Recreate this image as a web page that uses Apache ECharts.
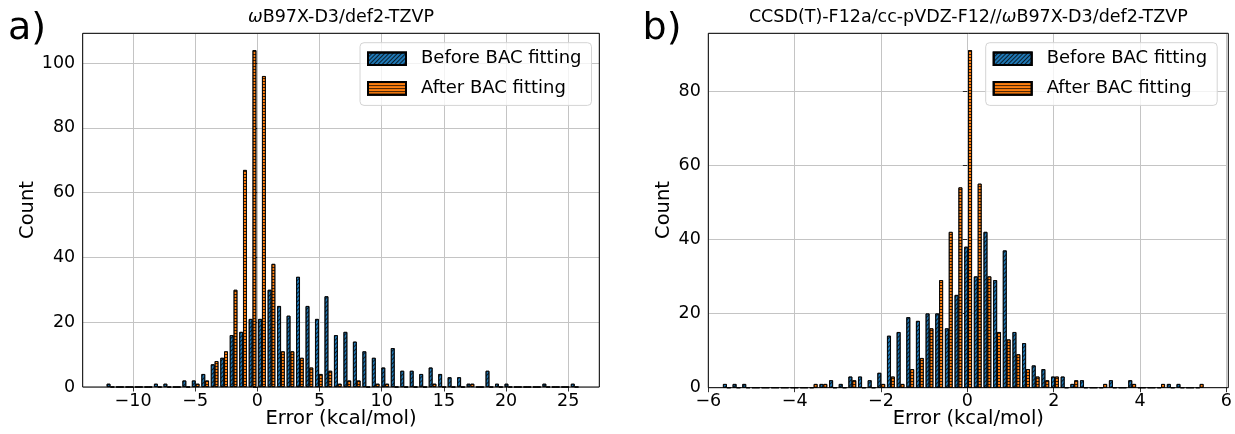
<!DOCTYPE html>
<html>
<head>
<meta charset="UTF-8">
<title>BAC fitting error histograms</title>
<script src="https://cdn.jsdelivr.net/npm/echarts@6/dist/echarts.min.js"></script>
<style>
html,body{margin:0;padding:0;background:#fff;}
#main{width:1235px;height:434px;}
</style>
</head>
<body>
<div id="main"></div>
<script>
// a) ωB97X-D3/def2-TZVP : 50 bins
var leftBinStart = -12.2;
var leftBinWidth = 0.762;
var leftBefore = [1,0,0,0,0,1,1,0,2,2, 4,7,9,16,17,21,21,30,25,22, 34,25,21,28,16,17,14,11,9,6, 12,5,5,4,6,4,3,3,1,0, 5,1,1,0,0,0,1,0,0,1];
var leftAfter  = [0,0,0,0,0,0,0,0,0,1, 2,8,11,30,67,104,96,38,11,11, 9,6,4,5,1,2,2,0,1,1, 0,0,0,0,1,0,0,0,1,0, 0,0,0,0,0,0,0,0,0,0];

// b) CCSD(T)-F12a/cc-pVDZ-F12//ωB97X-D3/def2-TZVP : 50 bins
var rightBinStart = -5.682;
var rightBinWidth = 0.2235;
var rightBefore = [1,1,1,0,0,0,0,0,0,0, 1,2,1,3,3,2,4,14,15,19, 18,20,20,16,25,38,30,42,29,37, 15,12,6,5,3,3,1,2,0,0, 2,0,2,0,0,0,1,1,0,0];
var rightAfter  = [0,0,0,0,0,0,0,0,0,1, 1,0,0,2,0,0,1,3,1,5, 8,16,29,42,54,91,55,30,15,13, 9,5,3,2,3,0,2,0,0,1, 0,0,1,0,0,1,0,0,0,1];

var seriesNames = ['Before BAC fitting', 'After BAC fitting'];
var FONT = 'DejaVu Sans';

// 坐标范围
var leftX = [-14.05, 27.5], leftY = [0, 109.2];
var rightX = [-6, 6], rightY = [0, 95.55];
var gL = {left: 82.7, top: 33.3, width: 516.6, height: 353.7};
var gR = {left: 708.3, top: 33.3, width: 520, height: 354.4};

// 柱子中心 = 区间起点 + 宽度*(k+offset)
function bars(start, w, counts, offset) {
    return counts.map(function (c, k) { return [start + w * (k + offset), c]; });
}
function pxWidth(w, ext, grid) { return 0.4 * w / (ext[1] - ext[0]) * grid.width; }

var blueHatch = {symbol: 'rect', symbolSize: 1, color: 'rgba(0,0,0,0.75)', dashArrayX: [1, 0], dashArrayY: [1, 2], rotation: -Math.PI / 4};
var orangeHatch = {symbol: 'rect', symbolSize: 1, color: 'rgba(0,0,0,0.75)', dashArrayX: [1, 0], dashArrayY: [1, 1.6], rotation: 0};
var blueStyle = {color: '#1f77b4', borderColor: '#000', borderWidth: 0.8, decal: blueHatch};
var orangeStyle = {color: '#ff7f0e', borderColor: '#000', borderWidth: 0.8, decal: orangeHatch};

function minus(v) { return v < 0 ? '\u2212' + Math.abs(v) : String(v); }
var tickLabel = {fontFamily: FONT, fontSize: 17.5, color: '#000', formatter: minus};

function xAxis(idx, ext, step) {
    return {
        type: 'value', gridIndex: idx, min: ext[0], max: ext[1],
        minInterval: step, maxInterval: step,
        axisLine: {show: false},
        axisTick: {show: true, length: 4.5, lineStyle: {color: '#000', width: 0.8}},
        axisLabel: Object.assign({margin: 5, showMinLabel: idx === 1, showMaxLabel: idx === 1}, tickLabel),
        splitLine: {show: true, lineStyle: {color: '#c4c4c4', width: 1}}
    };
}
function yAxis(idx, ext) {
    return {
        type: 'value', gridIndex: idx, min: ext[0], max: ext[1], interval: 20,
        axisLine: {show: false},
        axisTick: {show: true, length: 4.5, lineStyle: {color: '#000', width: 0.8}},
        axisLabel: Object.assign({margin: 7.5, showMaxLabel: false}, tickLabel),
        splitLine: {show: true, lineStyle: {color: '#c4c4c4', width: 1}}
    };
}
function legend(left) {
    return {
        data: seriesNames, orient: 'vertical', left: left, top: 42.7,
        padding: [7, 10, 8, 7], itemGap: 11.7, itemWidth: 38, itemHeight: 12.6,
        icon: 'rect',
        backgroundColor: 'rgba(255,255,255,0.8)', borderColor: '#d4d4d4', borderWidth: 1, borderRadius: 4,
        textStyle: {fontFamily: FONT, fontSize: 18, color: '#000', lineHeight: 16, padding: [0, 0, 0, 10]}
    };
}
function txt(x, y, text, size, extra) {
    return {
        type: 'text', x: x, y: y, z: 200, rotation: (extra && extra.rotation) || 0,
        style: Object.assign({text: text, fontFamily: FONT, fontSize: size, fill: '#000',
            textAlign: 'center', textVerticalAlign: 'middle'}, (extra && extra.style) || {})
    };
}
function frame(g) {
    return {type: 'rect', z: 150, shape: {x: g.left, y: g.top, width: g.width, height: g.height},
        style: {fill: null, stroke: '#000', lineWidth: 1}};
}
var omegaRich = {i: {fontFamily: FONT, fontSize: 17.5, fontStyle: 'italic', fill: '#000'},
                 n: {fontFamily: FONT, fontSize: 17.5, fill: '#000'}};

var chart = echarts.init(document.getElementById('main'), null, {renderer: 'canvas'});
chart.setOption({
    animation: false,
    backgroundColor: '#fff',
    grid: [
        Object.assign({containLabel: false}, gL),
        Object.assign({containLabel: false}, gR)
    ],
    xAxis: [xAxis(0, leftX, 5), xAxis(1, rightX, 2)],
    yAxis: [yAxis(0, leftY), yAxis(1, rightY)],
    legend: [legend(360), legend(985.7)],
    series: [
        {name: seriesNames[0], type: 'bar', xAxisIndex: 0, yAxisIndex: 0, barGap: '-100%',
         barWidth: pxWidth(leftBinWidth, leftX, gL), itemStyle: blueStyle,
         data: bars(leftBinStart, leftBinWidth, leftBefore, 0.3)},
        {name: seriesNames[1], type: 'bar', xAxisIndex: 0, yAxisIndex: 0, barGap: '-100%',
         barWidth: pxWidth(leftBinWidth, leftX, gL), itemStyle: orangeStyle,
         data: bars(leftBinStart, leftBinWidth, leftAfter, 0.7)},
        {name: seriesNames[0], type: 'bar', xAxisIndex: 1, yAxisIndex: 1, barGap: '-100%',
         barWidth: pxWidth(rightBinWidth, rightX, gR), itemStyle: blueStyle,
         data: bars(rightBinStart, rightBinWidth, rightBefore, 0.3)},
        {name: seriesNames[1], type: 'bar', xAxisIndex: 1, yAxisIndex: 1, barGap: '-100%',
         barWidth: pxWidth(rightBinWidth, rightX, gR), itemStyle: orangeStyle,
         data: bars(rightBinStart, rightBinWidth, rightAfter, 0.7)}
    ],
    graphic: [
        frame(gL), frame(gR),
        txt(27, 29, 'a)', 38),
        txt(662, 29, 'b)', 38),
        txt(gL.left + gL.width / 2, 17, '{i|ω}{n|B97X-D3/def2-TZVP}', 17.5, {style: {rich: omegaRich}}),
        txt(gR.left + gR.width / 2, 17, '{n|CCSD(T)-F12a/cc-pVDZ-F12//}{i|ω}{n|B97X-D3/def2-TZVP}', 17.5, {style: {rich: omegaRich}}),
        txt(28, 210, 'Count', 19.5, {rotation: Math.PI / 2}),
        txt(664, 210, 'Count', 19.5, {rotation: Math.PI / 2}),
        txt(gL.left + gL.width / 2, 419, 'Error (kcal/mol)', 19.5),
        txt(gR.left + gR.width / 2, 419, 'Error (kcal/mol)', 19.5)
    ]
});
</script>
</body>
</html>
